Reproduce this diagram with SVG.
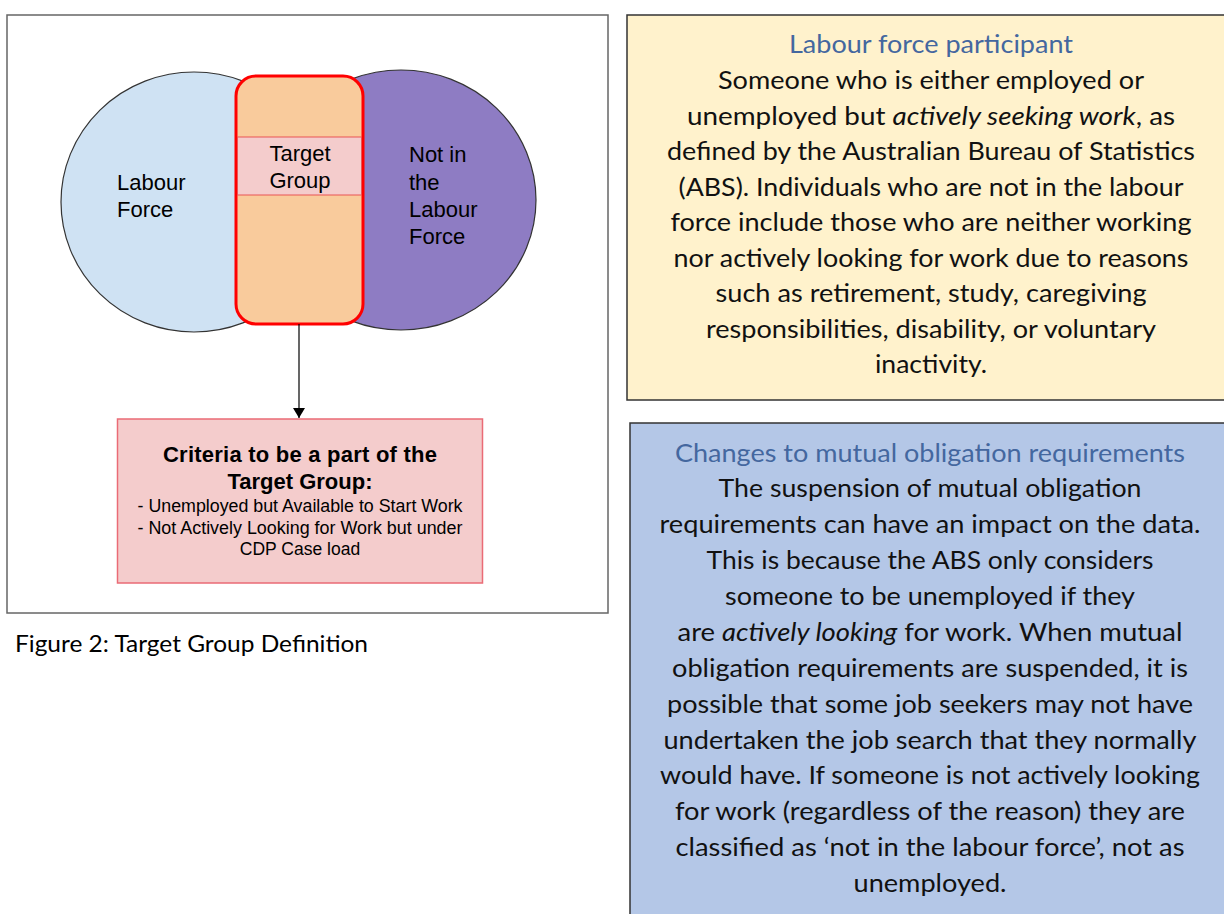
<svg xmlns="http://www.w3.org/2000/svg" width="1224" height="914" viewBox="0 0 1224 914">
<style>
.arial{font-family:"Liberation Sans",Arial,sans-serif;fill:#000}
.lbl{font-size:22px}
.crit-b{font-size:22px;font-weight:bold}
.crit{font-size:17.5px}
.cal{font-family:Lato,"Open Sans",sans-serif;font-size:25px;fill:#111;text-anchor:middle}
.ttl{fill:#44679f}
.cap{font-family:Lato,"Open Sans",sans-serif;font-size:23px;fill:#000}
</style>
<defs>
<marker id="arr" markerWidth="10" markerHeight="12" refX="10" refY="5" orient="auto" markerUnits="userSpaceOnUse" viewBox="0 0 10 10" preserveAspectRatio="none">
<path d="M0,0 L10,5 L0,10 z" fill="#000"/>
</marker>
</defs>
<rect width="1224" height="914" fill="#fff"/>
<g id="frame"><rect x="7" y="15" width="601" height="598" fill="#fff" stroke="#666" stroke-width="1.5"/></g>
<g id="labour-force">
<ellipse cx="194" cy="202" rx="133" ry="130" fill="#cfe2f3" stroke="#333" stroke-width="1.2"/>
<text class="arial lbl" x="117" y="190">Labour</text>
<text class="arial lbl" x="117" y="217">Force</text>
</g>
<g id="not-in-labour-force">
<ellipse cx="401" cy="200" rx="135" ry="130" fill="#8e7cc3" stroke="#333" stroke-width="1.2"/>
<text class="arial lbl" x="409" y="162">Not in</text>
<text class="arial lbl" x="409" y="190">the</text>
<text class="arial lbl" x="409" y="217">Labour</text>
<text class="arial lbl" x="409" y="244">Force</text>
</g>
<g id="target-group">
<rect x="236" y="76" width="127" height="248" rx="20" ry="20" fill="#f9cb9c" stroke="#ff0000" stroke-width="3"/>
<rect x="237.5" y="137" width="124" height="58" fill="#f4cccc" stroke="#ea5555" stroke-width="1"/>
<text class="arial lbl" x="300" y="161" text-anchor="middle">Target</text>
<text class="arial lbl" x="300" y="188" text-anchor="middle">Group</text>
</g>
<g id="connectors">
<line x1="299" y1="324" x2="299" y2="418" stroke="#000" stroke-width="1.2" marker-end="url(#arr)"/>
</g>
<g id="criteria">
<rect x="117.5" y="419" width="365" height="164" fill="#f4cccc" stroke="#ea6b76" stroke-width="1.5"/>
<text class="arial crit-b" x="300" y="462" text-anchor="middle" textLength="274">Criteria to be a part of the</text>
<text class="arial crit-b" x="300" y="489" text-anchor="middle">Target Group:</text>
<text class="arial crit" x="300" y="512" text-anchor="middle" textLength="325" lengthAdjust="spacingAndGlyphs">- Unemployed but Available to Start Work</text>
<text class="arial crit" x="300" y="534" text-anchor="middle" textLength="325" lengthAdjust="spacingAndGlyphs">- Not Actively Looking for Work but under</text>
<text class="arial crit" x="300" y="555" text-anchor="middle">CDP Case load</text>
</g>
<g id="caption">
<text class="cap" x="15" y="652" textLength="353" lengthAdjust="spacingAndGlyphs">Figure 2: Target Group Definition</text>
</g>
<g id="labour-force-participant">
<rect x="627" y="15" width="620" height="385" fill="#fff2cc" stroke="#333" stroke-width="1.5"/>
<text class="cal ttl" x="931" y="53" textLength="284" lengthAdjust="spacingAndGlyphs">Labour force participant</text>
<text class="cal" x="931" y="89" textLength="426" lengthAdjust="spacingAndGlyphs">Someone who is either employed or</text>
<text class="cal" x="931" y="124.5" textLength="488" lengthAdjust="spacingAndGlyphs">unemployed but <tspan font-style="italic">actively seeking work</tspan>, as</text>
<text class="cal" x="931" y="160" textLength="528" lengthAdjust="spacingAndGlyphs">defined by the Australian Bureau of Statistics</text>
<text class="cal" x="931" y="195.5" textLength="505" lengthAdjust="spacingAndGlyphs">(ABS). Individuals who are not in the labour</text>
<text class="cal" x="931" y="231" textLength="521" lengthAdjust="spacingAndGlyphs">force include those who are neither working</text>
<text class="cal" x="931" y="266.5" textLength="515" lengthAdjust="spacingAndGlyphs">nor actively looking for work due to reasons</text>
<text class="cal" x="931" y="302" textLength="431" lengthAdjust="spacingAndGlyphs">such as retirement, study, caregiving</text>
<text class="cal" x="931" y="337.5" textLength="450" lengthAdjust="spacingAndGlyphs">responsibilities, disability, or voluntary</text>
<text class="cal" x="931" y="373" textLength="112" lengthAdjust="spacingAndGlyphs">inactivity.</text>
</g>
<g id="mutual-obligation">
<rect x="630" y="423" width="620" height="520" fill="#b4c7e7" stroke="#333" stroke-width="1.5"/>
<text class="cal ttl" x="930" y="462" textLength="510" lengthAdjust="spacingAndGlyphs">Changes to mutual obligation requirements</text>
<text class="cal" x="930" y="497" textLength="423" lengthAdjust="spacingAndGlyphs">The suspension of mutual obligation</text>
<text class="cal" x="930" y="533" textLength="541" lengthAdjust="spacingAndGlyphs">requirements can have an impact on the data.</text>
<text class="cal" x="930" y="569" textLength="447" lengthAdjust="spacingAndGlyphs">This is because the ABS only considers</text>
<text class="cal" x="930" y="605" textLength="410" lengthAdjust="spacingAndGlyphs">someone to be unemployed if they</text>
<text class="cal" x="930" y="640.5" textLength="505" lengthAdjust="spacingAndGlyphs">are <tspan font-style="italic">actively looking</tspan> for work. When mutual</text>
<text class="cal" x="930" y="676.5" textLength="516" lengthAdjust="spacingAndGlyphs">obligation requirements are suspended, it is</text>
<text class="cal" x="930" y="712.5" textLength="526" lengthAdjust="spacingAndGlyphs">possible that some job seekers may not have</text>
<text class="cal" x="930" y="748.5" textLength="533" lengthAdjust="spacingAndGlyphs">undertaken the job search that they normally</text>
<text class="cal" x="930" y="784" textLength="540" lengthAdjust="spacingAndGlyphs">would have. If someone is not actively looking</text>
<text class="cal" x="930" y="820" textLength="510" lengthAdjust="spacingAndGlyphs">for work (regardless of the reason) they are</text>
<text class="cal" x="930" y="856" textLength="509" lengthAdjust="spacingAndGlyphs">classified as ‘not in the labour force’, not as</text>
<text class="cal" x="930" y="892" textLength="153" lengthAdjust="spacingAndGlyphs">unemployed.</text>
</g>
</svg>
